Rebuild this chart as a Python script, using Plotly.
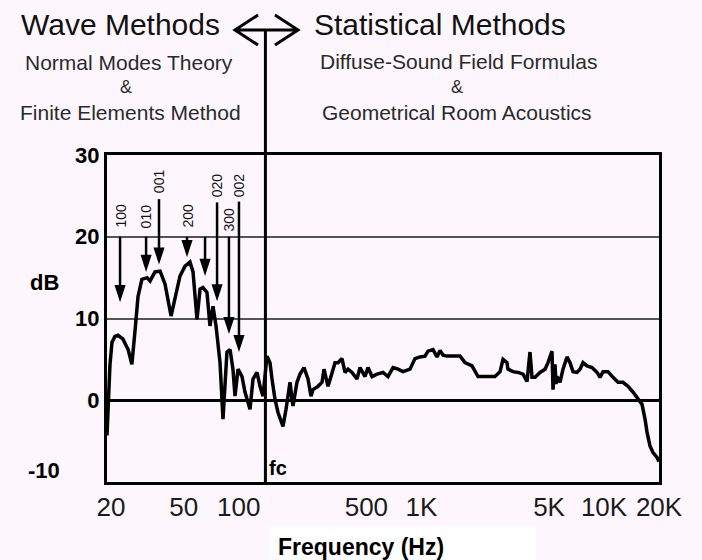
import math
import plotly.graph_objects as go

# Measured room response: frequency (Hz) and level (dB)
FREQ_HZ = [
    19, 19.24, 19.73, 20.24, 21.0, 21.8, 23.2, 24.8, 26.0, 27.0,
    28.1, 29.5, 31.5, 32.7, 34.8, 37.1, 39.5, 42.6, 44.8, 47.7,
    50.8, 54.1, 56.2, 59.1, 61.4, 63.7, 67.0, 69.6, 72.3, 75.1,
    79.0, 82.0, 86.2, 89.6, 93.0, 95.4, 99.1, 104.2, 108.2, 115.3,
    119.7, 125.9, 130.8, 135.8, 142.8, 148.3, 152.1, 158.0, 164.1, 174.7,
    181.5, 190.9, 195.7, 198.2, 208.4, 216.6, 227.7, 239.4, 248.7, 255.0,
    271.7, 285.8, 293.1, 304.4, 308.2, 320.0, 336.6, 349.6, 367.6, 381.9,
    396.6, 417.1, 444.2, 461.3, 491.4, 510.2, 536.6, 571.5, 616.6, 656.5,
    699.4, 745.0, 793.5, 866.4, 923, 983, 1047, 1087, 1158, 1218,
    1265, 1314, 1382, 1627, 1733, 1893, 2043, 2531, 2696, 2799,
    2943, 2979, 3175, 3382, 3601, 3788, 3933, 4034, 4190, 4463,
    4752, 4936, 5191, 5256, 5392, 5458, 5527, 5741, 5962, 6271,
    6513, 6762, 7112, 7389, 7674, 8071, 8597, 9157, 9509, 9875,
    10517, 11200, 11930, 12707, 13534, 14414, 15350, 16146, 16770, 17195,
    17856, 18546, 19505, 20000,
]
LEVEL_DB = [
    -4.3, -0.5, 4.4, 7.1, 7.8, 7.95, 7.5, 6.2, 4.4, 8.3,
    12.7, 14.8, 15.0, 14.6, 15.7, 15.8, 14.2, 10.3, 12.7, 15.2,
    16.4, 16.9, 15.7, 9.9, 13.6, 13.8, 13.2, 9.1, 11.5, 9.1,
    4.6, -2.3, 5.9, 6.2, 3.8, 0.5, 3.8, 2.9, 1.0, -1.1,
    2.6, 3.4, 1.7, 0.5, 5.4, 4.6, 2.6, 0.1, -1.5, -3.2,
    -1.1, 2.2, 0.1, -0.7, 2.2, 3.2, 4.0, 2.6, 0.5, 1.3,
    1.7, 2.2, 3.8, 2.2, 1.7, 2.9, 4.6, 4.6, 5.1, 3.4,
    3.8, 3.4, 2.6, 4.0, 2.9, 4.0, 2.9, 3.2, 3.4, 2.9,
    4.0, 3.8, 3.5, 3.8, 5.1, 5.3, 5.4, 6.0, 6.2, 5.3,
    6.1, 5.5, 5.4, 5.4, 4.6, 4.2, 2.9, 2.9, 3.5, 5.0,
    4.6, 3.8, 3.5, 3.4, 3.2, 2.3, 5.9, 2.8, 2.8, 3.4,
    3.8, 4.6, 6.0, 1.3, 4.4, 2.0, 2.9, 2.2, 3.8, 5.3,
    4.6, 3.5, 3.4, 3.8, 4.6, 4.2, 4.0, 3.4, 2.8, 3.5,
    3.5, 2.8, 2.2, 2.2, 1.7, 1.0, 0.1, -0.5, -2.3, -3.9,
    -5.6, -6.4, -7.0, -7.5,
]
assert len(FREQ_HZ) == len(LEVEL_DB)

# Room modes marked with arrows (label, frequency, arrow tail/tip level, label level)
MODE_LABELS = ["100", "010", "001", "200", "", "020", "300", "002"]
MODE_FREQ_HZ = [22.4, 31.1, 36.6, 52.1, 65.4, 76.1, 88.4, 100.3]
MODE_TAIL_DB = [20.0, 20.0, 24.6, 20.0, 20.0, 24.2, 20.0, 24.3]
MODE_TIP_DB = [12.0, 15.7, 16.6, 17.5, 15.2, 12.1, 8.1, 5.9]
MODE_LABEL_DB = [22.6, 22.5, 26.8, 22.6, 0, 26.3, 22.1, 26.3]

# Schroeder (crossover) frequency
FC_HZ = 140

X_TICKS = [20, 50, 100, 500, 1000, 5000, 10000, 20000]
X_TICKTEXT = ["20", "50", "100", "500", "1K", "5K", "10K", "20K"]
Y_TICKS = [-10, 0, 10, 20, 30]
Y_TICKTEXT = ["", "0", "10", "20", "30"]

FONT = "Liberation Sans, Arial, sans-serif"
BG = "#fdf7fd"

fig = go.Figure()

fig.add_trace(go.Scatter(
    x=FREQ_HZ, y=LEVEL_DB, mode="lines",
    line=dict(color="black", width=3.5), hoverinfo="skip", showlegend=False,
))

# Mode arrows: shafts
ax_x, ax_y = [], []
for f, t0, t1 in zip(MODE_FREQ_HZ, MODE_TAIL_DB, MODE_TIP_DB):
    ax_x += [f, f, None]
    ax_y += [t0, t1 + 0.8, None]
fig.add_trace(go.Scatter(
    x=ax_x, y=ax_y, mode="lines", line=dict(color="black", width=2.5),
    hoverinfo="skip", showlegend=False,
))
# Mode arrows: heads
fig.add_trace(go.Scatter(
    x=MODE_FREQ_HZ, y=MODE_TIP_DB, mode="markers",
    marker=dict(symbol="arrow", angle=180, size=18, color="black",
                line=dict(width=0)),
    hoverinfo="skip", showlegend=False,
))

annotations = []
for lab, f, yl in zip(MODE_LABELS, MODE_FREQ_HZ, MODE_LABEL_DB):
    if not lab:
        continue
    annotations.append(dict(
        x=math.log10(f), y=yl, xref="x", yref="y", text=lab, showarrow=False,
        textangle=-90, font=dict(family=FONT, size=14, color="#111"),
        xanchor="center", yanchor="middle",
    ))

annotations.append(dict(
    x=math.log10(FC_HZ), y=-10, xref="x", yref="y", text="fc", showarrow=False,
    xanchor="left", yanchor="bottom", xshift=2, yshift=1,
    font=dict(family=FONT, size=20, color="black", weight="bold"),
))
annotations.append(dict(
    x=-0.082, y=-10, xref="paper", yref="y", text="-10", showarrow=False,
    xanchor="right", yanchor="middle", yshift=12,
    font=dict(family=FONT, size=22, color="black", weight="bold"),
))
annotations.append(dict(
    x=-0.114, y=0.609, xref="paper", yref="paper", text="dB", showarrow=False,
    xanchor="center", yanchor="middle",
    font=dict(family=FONT, size=22, color="black", weight="bold"),
))
annotations.append(dict(
    x=0.460, y=-0.2, xref="paper", yref="paper", text="Frequency (Hz)",
    showarrow=False, xanchor="center", yanchor="middle",
    font=dict(family=FONT, size=23, color="black", weight="bold"),
))

# Header texts
header = [
    ("Wave Methods", 0.0236, 1.400, 30),
    ("Statistical Methods", 0.6033, 1.400, 30),
    ("Normal Modes Theory", 0.0399, 1.283, 21),
    ("&", 0.0344, 1.208, 18),
    ("Finite Elements Method", 0.0428, 1.131, 21),
    ("Diffuse-Sound Field Formulas", 0.6359, 1.285, 21),
    ("&", 0.634, 1.208, 18),
    ("Geometrical Room Acoustics", 0.634, 1.131, 21),
]
for txt, x, y, s in header:
    annotations.append(dict(
        x=x, y=y, xref="paper", yref="paper", text=txt, showarrow=False,
        xanchor="center", yanchor="middle",
        font=dict(family=FONT, size=s, color="#111" if s > 25 else "#2a2a2a"),
    ))

shapes = [
    # fc divider line reaching up to the double arrow
    dict(type="line", xref="x", yref="paper", x0=FC_HZ, x1=FC_HZ,
         y0=0, y1=1.382, line=dict(color="black", width=3), layer="above"),
    # double-headed arrow between the two method families
    dict(type="path", xref="paper", yref="paper",
         path=("M0.2736,1.4281 L0.2319,1.3823 L0.2736,1.3364 "
               "M0.2319,1.3823 L0.3460,1.3823 "
               "M0.3043,1.4281 L0.3460,1.3823 L0.3043,1.3364"),
         line=dict(color="black", width=3)),
    # light patch behind the axis title
    dict(type="rect", xref="paper", yref="paper", x0=0.295, x1=0.777,
         y0=-0.238, y1=-0.136, fillcolor="white", line=dict(width=0),
         layer="below"),
]

fig.update_layout(
    width=702, height=560, autosize=False,
    margin=dict(l=107, r=43, t=155, b=78),
    paper_bgcolor=BG, plot_bgcolor=BG,
    font=dict(family=FONT, color="black"),
    annotations=annotations, shapes=shapes, showlegend=False,
)
fig.update_xaxes(
    type="log", range=[math.log10(19), math.log10(20000)],
    tickvals=X_TICKS, ticktext=X_TICKTEXT, ticks="",
    tickfont=dict(family=FONT, size=26, color="#1a1a1a"),
    showgrid=False, zeroline=False,
    showline=True, linecolor="black", linewidth=3, mirror=True,
)
fig.update_yaxes(
    range=[-10, 30], tickvals=Y_TICKS, ticktext=Y_TICKTEXT, ticks="",
    tickfont=dict(family=FONT, size=22, color="black", weight="bold"),
    showgrid=True, gridcolor="#555", gridwidth=2,
    zeroline=True, zerolinecolor="black", zerolinewidth=2.5,
    showline=True, linecolor="black", linewidth=3, mirror=True,
)

fig.write_html("out.html")
